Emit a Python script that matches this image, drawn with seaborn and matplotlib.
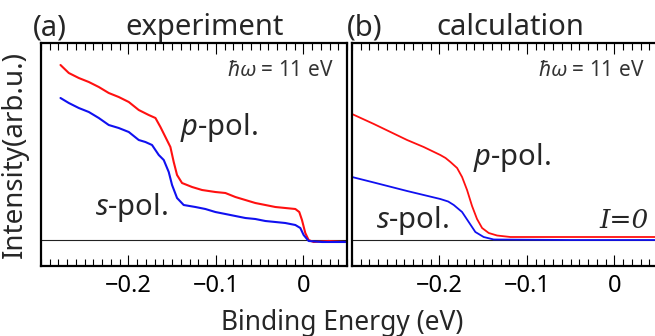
import matplotlib
matplotlib.use("Agg")
import matplotlib.pyplot as plt
from matplotlib.ticker import MultipleLocator
import numpy as np
import pandas as pd
import seaborn as sns

sns.set_theme(style="ticks")
plt.rcParams["font.family"] = ["Noto Sans", "DejaVu Sans"]
plt.rcParams["mathtext.fontset"] = "custom"
plt.rcParams["mathtext.rm"] = "Noto Sans"
plt.rcParams["mathtext.it"] = "Noto Sans:italic"

# --- (a) experiment: values ---
exp_p_x = [-0.2777, -0.2682, -0.2568, -0.2453, -0.2339, -0.2225, -0.2111, -0.1996,
           -0.1882, -0.1768, -0.1691, -0.1634, -0.1577, -0.1520, -0.1482, -0.1444,
           -0.1387, -0.1272, -0.1158, -0.1006, -0.0891, -0.0777, -0.0663, -0.0549,
           -0.0434, -0.0320, -0.0206, -0.0091, -0.0046, -0.0015, 0.0023, 0.0061,
           0.0118, 0.0290, 0.0480]
exp_p_y = [1.75, 1.67, 1.62, 1.58, 1.53, 1.47, 1.43, 1.38,
           1.30, 1.25, 1.22, 1.13, 1.03, 0.93, 0.78, 0.65,
           0.57, 0.53, 0.50, 0.48, 0.47, 0.43, 0.40, 0.37,
           0.35, 0.33, 0.32, 0.31, 0.28, 0.20, 0.07, 0.00,
           -0.02, -0.01, -0.02]

exp_s_x = [-0.2777, -0.2682, -0.2568, -0.2453, -0.2339, -0.2225, -0.2111, -0.1996,
           -0.1882, -0.1806, -0.1730, -0.1653, -0.1596, -0.1539, -0.1501, -0.1444,
           -0.1368, -0.1234, -0.1120, -0.1006, -0.0891, -0.0777, -0.0663, -0.0549,
           -0.0434, -0.0320, -0.0206, -0.0091, -0.0034, 0.0004, 0.0061, 0.0214, 0.0480]
exp_s_y = [1.42, 1.37, 1.32, 1.28, 1.22, 1.15, 1.12, 1.08,
           1.00, 0.98, 0.95, 0.85, 0.80, 0.68, 0.55, 0.42,
           0.35, 0.33, 0.31, 0.28, 0.26, 0.24, 0.22, 0.21,
           0.19, 0.18, 0.17, 0.15, 0.12, 0.05, -0.01, -0.02, -0.02]

# --- (b) calculation ---
calc_p_x = [-0.3000, -0.2750, -0.2560, -0.2370, -0.2180, -0.1990, -0.1930, -0.1874,
            -0.1798, -0.1741, -0.1684, -0.1627, -0.1570, -0.1512, -0.1436, -0.1341,
            -0.1189, -0.0500, 0.0500]
calc_p_y = [1.26, 1.16, 1.08, 1.00, 0.93, 0.85, 0.82, 0.78,
            0.72, 0.63, 0.50, 0.34, 0.21, 0.12, 0.07, 0.045,
            0.03, 0.03, 0.03]

calc_s_x = [-0.3000, -0.2750, -0.2370, -0.1990, -0.1900, -0.1836, -0.1741, -0.1665,
            -0.1589, -0.1494, -0.1379, -0.0500, 0.0500]
calc_s_y = [0.63, 0.575, 0.49, 0.41, 0.385, 0.35, 0.28, 0.18,
            0.08, 0.03, 0.005, 0.00, 0.00]

xticks = [-0.2, -0.1, 0.0]
xtick_labels = ["\u22120.2", "\u22120.1", "0"]

RED = "#ff1010"
BLUE = "#1010f0"

fig = plt.figure(figsize=(6.55, 3.36), dpi=100)
W, H = 655, 336
ax_a = fig.add_axes([41 / W, 70 / H, 306 / W, 223 / H])
ax_b = fig.add_axes([352 / W, 70 / H, 306 / W, 223 / H])

df_a = pd.concat([
    pd.DataFrame({"E": exp_p_x, "I": exp_p_y, "pol": "p"}),
    pd.DataFrame({"E": exp_s_x, "I": exp_s_y, "pol": "s"}),
])
df_b = pd.concat([
    pd.DataFrame({"E": calc_p_x, "I": calc_p_y, "pol": "p"}),
    pd.DataFrame({"E": calc_s_x, "I": calc_s_y, "pol": "s"}),
])

for ax, df, lw in [(ax_a, df_a, 1.5), (ax_b, df_b, 1.3)]:
    ax.axhline(0, color="#222222", lw=0.8, zorder=1)
    sns.lineplot(data=df, x="E", y="I", hue="pol", palette={"p": RED, "s": BLUE},
                 sort=False, estimator=None, lw=lw, legend=False, ax=ax, zorder=2)
    ax.set_xlim(-0.3, 0.05)
    ax.set_ylim(-0.26, 1.97)
    ax.set_xticks(xticks)
    ax.set_xticklabels(xtick_labels)
    ax.xaxis.set_minor_locator(MultipleLocator(0.01))
    ax.set_yticks([])
    ax.set_xlabel("")
    ax.set_ylabel("")
    ax.tick_params(axis="x", which="both", direction="in", top=True, bottom=True,
                   color="black", width=0.8)
    ax.tick_params(axis="x", which="major", length=8, labelsize=17, pad=6,
                   labelcolor="black")
    ax.tick_params(axis="x", which="minor", length=5)
    for s in ax.spines.values():
        s.set_visible(True)
        s.set_linewidth(1.6)
        s.set_color("black")
    ax.text(0.035, 1.70, r"$\hbar\omega$ = 11 eV", ha="right", va="center",
            fontsize=15, color="#333333")

# labels panel a
ax_a.text(-0.1406, 1.05, r"$p$-pol.", fontsize=21, va="baseline", ha="left")
ax_a.text(-0.2377, 0.25, r"$s$-pol.", fontsize=21, va="baseline", ha="left")
# labels panel b
ax_b.text(-0.1611, 0.75, r"$p$-pol.", fontsize=21, va="baseline", ha="left")
ax_b.text(-0.2731, 0.12, r"$s$-pol.", fontsize=21, va="baseline", ha="left")
ax_b.text(0.0389, 0.12, "I=0", fontsize=19, va="baseline", ha="right",
          fontstyle="italic", family=["DejaVu Serif"])

# panel titles
fig.text(33 / W, 1 - 35 / H, "(a)", fontsize=21, va="baseline", ha="left")
fig.text(205 / W, 1 - 35 / H, "experiment", fontsize=21, va="baseline", ha="center")
fig.text(347 / W, 1 - 35 / H, "(b)", fontsize=21, va="baseline", ha="left")
fig.text(510 / W, 1 - 35 / H, "calculation", fontsize=21, va="baseline", ha="center")

fig.text(15 / W, 1 - 155 / H, "Intensity(arb.u.)", fontsize=20, rotation=90,
         va="center", ha="center")
fig.text(342 / W, 1 - 330 / H, "Binding Energy (eV)", fontsize=19,
         va="baseline", ha="center")

fig.savefig("out.png", dpi=100)
